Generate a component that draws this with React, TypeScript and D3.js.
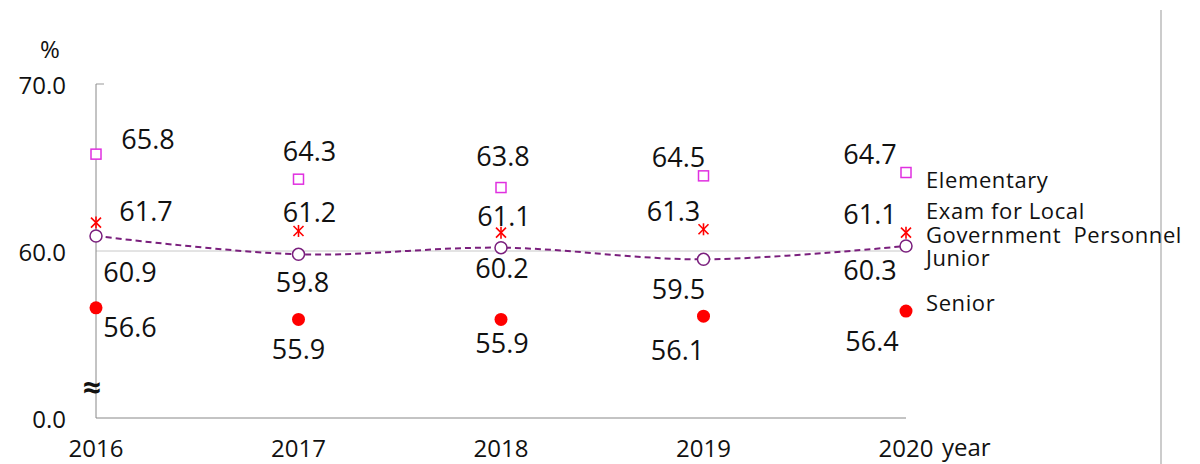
import React from 'react'
import * as d3 from 'd3'

const years = ['2016', '2017', '2018', '2019', '2020']
const elementary = [65.8, 64.3, 63.8, 64.5, 64.7]
const exam = [61.7, 61.2, 61.1, 61.3, 61.1]
const junior = [60.9, 59.8, 60.2, 59.5, 60.3]
const senior = [56.6, 55.9, 55.9, 56.1, 56.4]
const yTicks = [50, 60, 70]
const yTickLabels = ['0.0', '60.0', '70.0']

// label offsets [dx, dy] from each marker, per series
const offElem = [[52, -16], [11, -29], [2, -32], [-25, -19], [-36, -19]]
const offExam = [[50, -12], [11, -19], [3, -17], [-30, -19], [-36, -19]]
const offJun = [[34, 36], [4, 27], [1, 20], [-25, 29], [-36, 24]]
const offSen = [[34, 19], [0, 29], [1, 23], [-26, 33], [-34, 29]]

const FONT = "'Open Sans', 'Noto Sans', 'DejaVu Sans', sans-serif"
const MAGENTA = '#e030e0'
const PURPLE = '#7a1f7d'
const RED = '#ff0000'

export default function App() {
    const width = 1200
    const height = 464
    const x = d3.scalePoint().domain(years).range([96, 906])
    const y = d3.scaleLinear().domain([50, 70]).range([418, 84])
    const px = (i: number) => x(years[i]) as number

    const line = d3.line<number>()
        .x((_, i) => px(i))
        .y(d => y(d))
        .curve(d3.curveCatmullRom.alpha(0.5))

    const label = (v: number, i: number, off: number[][]) => (
        <text key={'l' + i} x={px(i) + off[i][0]} y={y(v) + off[i][1]}
            textAnchor='middle' dominantBaseline='central'
            fontSize={27} fill='#111'>{v.toFixed(1)}</text>
    )

    const star = (cx: number, cy: number, key: string) => (
        <g key={key} stroke={RED} strokeWidth={1.6}>
            <line x1={cx} y1={cy - 6} x2={cx} y2={cy + 6} />
            <line x1={cx - 5} y1={cy - 5} x2={cx + 5} y2={cy + 5} />
            <line x1={cx - 5} y1={cy + 5} x2={cx + 5} y2={cy - 5} />
        </g>
    )

    const legX = 926
    return (
        <svg width={width} height={height} style={{ position: 'absolute', left: 0, top: 0 }}
            fontFamily={FONT}>
            <rect width={width} height={height} fill='#fff' />
            <line x1={1161} y1={10} x2={1161} y2={464} stroke='#999' strokeWidth={1} />

            {/* axes */}
            <line x1={96} y1={y(60)} x2={906} y2={y(60)} stroke='#c8c8c8' strokeWidth={1} />
            <line x1={96} y1={y(70)} x2={104} y2={y(70)} stroke='#999' strokeWidth={1} />
            <line x1={96} y1={y(70)} x2={96} y2={y(50)} stroke='#888' strokeWidth={1} />
            <line x1={96} y1={y(50)} x2={906} y2={y(50)} stroke='#888' strokeWidth={1} />
            <text x={92} y={386} textAnchor='middle' dominantBaseline='central' fontSize={32}
                fontWeight='bold' fill='#111'>≈</text>
            {yTicks.map((t, i) => (
                <text key={t} x={66} y={y(t)} textAnchor='end' dominantBaseline='central'
                    fontSize={24} fill='#111'>{yTickLabels[i]}</text>
            ))}
            <text x={50} y={48} textAnchor='middle' dominantBaseline='central' fontSize={24}
                fill='#111'>%</text>
            {years.map((yr, i) => (
                <text key={yr} x={px(i)} y={447} textAnchor='middle' dominantBaseline='central'
                    fontSize={24} fill='#111'>{yr}</text>
            ))}
            <text x={942} y={446} dominantBaseline='central' fontSize={24} fill='#111'>year</text>

            {/* junior line */}
            <path d={line(junior) || ''} fill='none' stroke={PURPLE} strokeWidth={2}
                strokeDasharray='6,4' />

            {elementary.map((v, i) => (
                <rect key={'e' + i} x={px(i) - 5} y={y(v) - 5} width={10} height={10}
                    fill='#fff' stroke={MAGENTA} strokeWidth={1.5} />
            ))}
            {exam.map((v, i) => star(px(i), y(v), 'x' + i))}
            {junior.map((v, i) => (
                <circle key={'j' + i} cx={px(i)} cy={y(v)} r={6} fill='#fff' stroke={PURPLE}
                    strokeWidth={1.5} />
            ))}
            {senior.map((v, i) => (
                <circle key={'s' + i} cx={px(i)} cy={y(v)} r={6.5} fill={RED} />
            ))}

            {elementary.map((v, i) => label(v, i, offElem))}
            {exam.map((v, i) => label(v, i, offExam))}
            {junior.map((v, i) => label(v, i, offJun))}
            {senior.map((v, i) => label(v, i, offSen))}

            {/* series names */}
            <g fontSize={22} fill='#111' dominantBaseline='central' letterSpacing={0.6}>
                <text x={legX} y={179}>Elementary</text>
                <text x={legX} y={210}>Exam for Local</text>
                <text x={legX} y={234} wordSpacing={6}>Government Personnel</text>
                <text x={legX} y={257}>Junior</text>
                <text x={legX} y={302}>Senior</text>
            </g>
        </svg>
    )
}
